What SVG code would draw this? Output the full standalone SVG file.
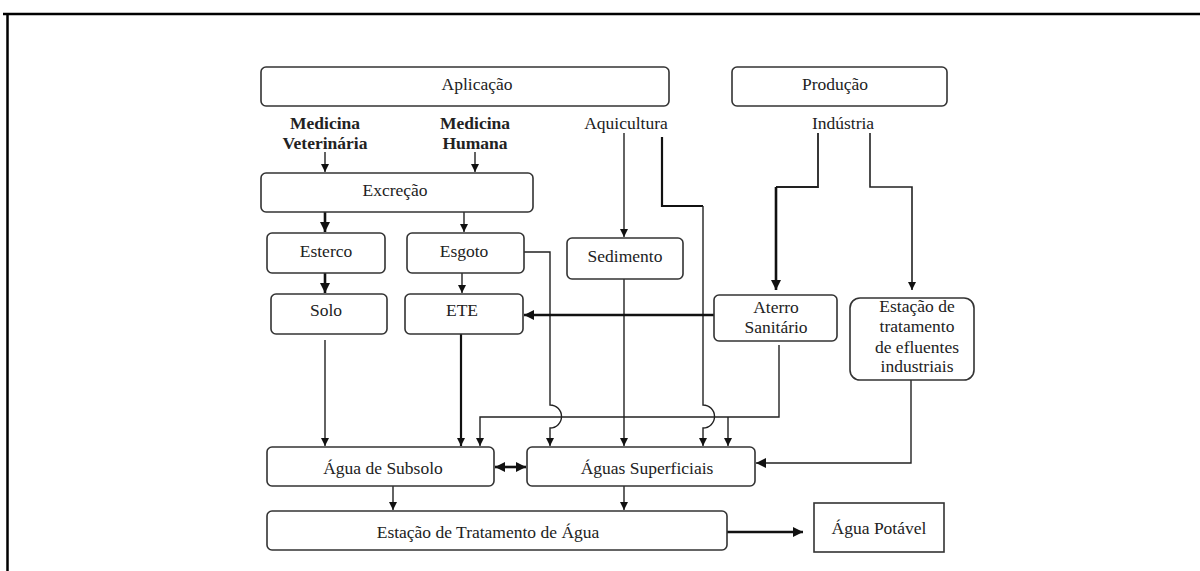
<svg xmlns="http://www.w3.org/2000/svg" width="1200" height="571" viewBox="0 0 1200 571">
<style>
  .box { fill: #fff; stroke: #333; stroke-width: 1.6; }
  .t { font-family: "Liberation Serif", "Times New Roman", serif; font-size: 17.5px; fill: #222; text-anchor: middle; }
  .b { font-weight: bold; }
  .c { fill: none; stroke: #222; stroke-width: 1.4; }
  .k { fill: none; stroke: #111; stroke-width: 2.6; }
</style>
<defs>
  <marker id="a" markerUnits="userSpaceOnUse" viewBox="0 0 10 10" refX="10" refY="5" markerWidth="8" markerHeight="9" orient="auto">
    <path d="M0,0 L10,5 L0,10 z" fill="#111"/>
  </marker>
  <marker id="ak" markerUnits="userSpaceOnUse" viewBox="0 0 10 10" refX="10" refY="5" markerWidth="10" markerHeight="10" orient="auto">
    <path d="M0,0 L10,5 L0,10 z" fill="#111"/>
  </marker>
  <marker id="as" markerUnits="userSpaceOnUse" viewBox="0 0 10 10" refX="0" refY="5" markerWidth="10" markerHeight="10" orient="auto">
    <path d="M10,0 L0,5 L10,10 z" fill="#111"/>
  </marker>
</defs>
<rect width="1200" height="571" fill="#fff"/>
<path d="M3 14 H1200 M7.5 13 V571" fill="none" stroke="#000" stroke-width="2.5"/>

<g id="connectors">
  <path class="c" d="M325 152 V172" marker-end="url(#a)"/>
  <path class="c" d="M475 152 V172" marker-end="url(#a)"/>
  <path class="k" d="M325 212 V232" marker-end="url(#ak)"/>
  <path class="c" d="M464 212 V232" marker-end="url(#a)"/>
  <path class="k" d="M325 273 V293" marker-end="url(#ak)"/>
  <path class="c" d="M462 273 V293" marker-end="url(#a)"/>
  <path class="c" d="M524 252 H550 V405 A11.5 11.5 0 0 1 550 428 V446" marker-end="url(#a)"/>
  <path class="c" d="M624 133 V237" marker-end="url(#a)"/>
  <path class="c" d="M624 279 V446" marker-end="url(#a)"/>
  <path class="k" d="M662 137 V206 H703" style="stroke-width:2.2"/>
  <path class="c" d="M703 206 V405 A11.5 11.5 0 0 1 703 428 V446" marker-end="url(#a)"/>
  <path class="c" d="M818 133 V187 H776" style="stroke-width:1.8"/>
  <path class="k" d="M776 187 V290" marker-end="url(#ak)"/>
  <path class="c" d="M870 133 V187 H912 V290" style="stroke-width:1.6" marker-end="url(#a)"/>
  <path class="k" d="M714 315 H524" marker-end="url(#ak)"/>
  <path class="c" d="M779 345 V417 H480 V446" marker-end="url(#a)"/>
  <path class="c" d="M728 417 V446" marker-end="url(#a)"/>
  <path class="k" d="M461 334 V446" style="stroke-width:2.2" marker-end="url(#a)"/>
  <path class="c" d="M325 340 V446" marker-end="url(#a)"/>
  <path class="c" d="M911 380 V463 H756" marker-end="url(#ak)"/>
  <path class="k" d="M495 467 H526" marker-start="url(#as)" marker-end="url(#ak)"/>
  <path class="c" d="M393 486 V510" marker-end="url(#a)"/>
  <path class="c" d="M624 486 V510" marker-end="url(#a)"/>
  <path class="k" d="M727 532 H803" marker-end="url(#ak)"/>
</g>

<g id="aplicacao"><rect class="box" x="261" y="67" width="408" height="39" rx="5"/><text class="t" x="477" y="90">Aplicação</text></g>
<g id="producao"><rect class="box" x="732" y="67" width="215" height="39" rx="5"/><text class="t" x="835" y="90">Produção</text></g>
<g id="med-vet"><text class="t b" x="325" y="129">Medicina</text><text class="t b" x="325" y="149">Veterinária</text></g>
<g id="med-hum"><text class="t b" x="475" y="129">Medicina</text><text class="t b" x="475" y="149">Humana</text></g>
<g id="aquicultura"><text class="t" x="626" y="129">Aquicultura</text></g>
<g id="industria"><text class="t" x="843" y="129">Indústria</text></g>
<g id="excrecao"><rect class="box" x="261" y="173" width="272" height="39" rx="5"/><text class="t" x="395" y="196">Excreção</text></g>
<g id="esterco"><rect class="box" x="267" y="233" width="118" height="40" rx="5"/><text class="t" x="326" y="257">Esterco</text></g>
<g id="esgoto"><rect class="box" x="407" y="233" width="117" height="40" rx="5"/><text class="t" x="464" y="257">Esgoto</text></g>
<g id="sedimento"><rect class="box" x="567" y="238" width="116" height="41" rx="5"/><text class="t" x="625" y="262">Sedimento</text></g>
<g id="solo"><rect class="box" x="271" y="294" width="116" height="40" rx="5"/><text class="t" x="326" y="316">Solo</text></g>
<g id="ete"><rect class="box" x="405" y="294" width="118" height="40" rx="5"/><text class="t" x="462" y="316">ETE</text></g>
<g id="aterro"><rect class="box" x="714" y="295" width="123" height="46" rx="5"/><text class="t" x="776" y="313">Aterro</text><text class="t" x="776" y="333">Sanitário</text></g>
<g id="estacao-efluentes"><rect class="box" x="850" y="298" width="124" height="82" rx="10"/><text class="t" x="917" y="312">Estação de</text><text class="t" x="917" y="332">tratamento</text><text class="t" x="917" y="353">de efluentes</text><text class="t" x="917" y="372">industriais</text></g>
<g id="agua-subsolo"><rect class="box" x="267" y="447" width="227" height="39" rx="5"/><text class="t" x="383" y="474">Água de Subsolo</text></g>
<g id="aguas-superficiais"><rect class="box" x="527" y="447" width="228" height="39" rx="5"/><text class="t" x="647" y="474">Águas Superficiais</text></g>
<g id="eta"><rect class="box" x="267" y="511" width="460" height="39" rx="5"/><text class="t" x="488" y="538">Estação de Tratamento de Água</text></g>
<g id="agua-potavel"><rect class="box" x="814" y="503" width="130" height="49"/><text class="t" x="879" y="534">Água Potável</text></g>
</svg>
